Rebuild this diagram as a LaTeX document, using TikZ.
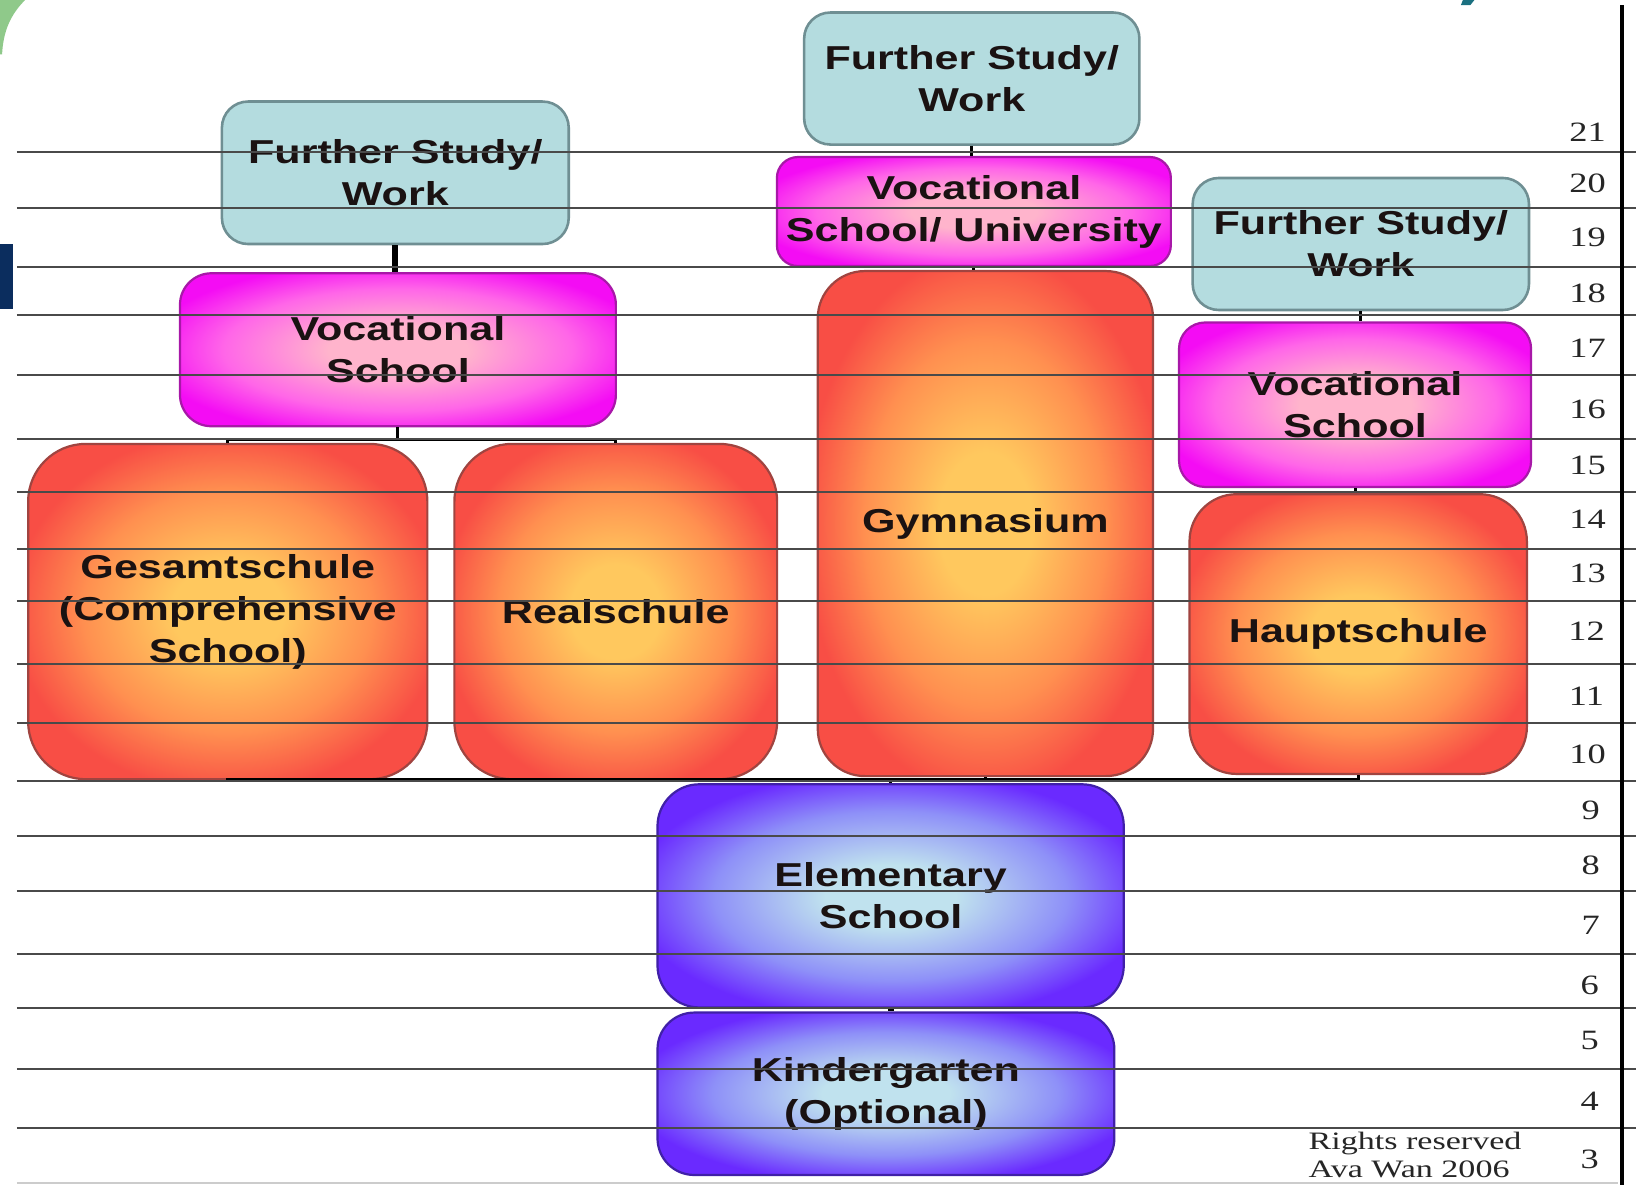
\documentclass[tikz,border=0pt]{standalone}
\usepackage{fontspec}
\setmainfont{Liberation Sans}
\newfontfamily\lblfont[FakeStretch=1.3]{Liberation Sans Bold}
\newfontfamily\numfont[FakeStretch=1.3]{Liberation Serif}
\newfontfamily\rightsfont[FakeStretch=1.36]{Liberation Serif}

\definecolor{orC}{HTML}{FFC85E}
\definecolor{orM}{HTML}{FF9050}
\definecolor{orE}{HTML}{F84E45}
\definecolor{orB}{HTML}{A04440}
\definecolor{mgC}{HTML}{FFB4CC}
\definecolor{mgM}{HTML}{FF66E8}
\definecolor{mgE}{HTML}{F40CF4}
\definecolor{mgB}{HTML}{A818A8}
\definecolor{blC}{HTML}{C0E2EE}
\definecolor{blM}{HTML}{8E90F8}
\definecolor{blE}{HTML}{6A2AFF}
\definecolor{blB}{HTML}{4020A8}
\definecolor{fsF}{HTML}{B4DCDF}
\definecolor{fsB}{HTML}{6F8F93}
\definecolor{txt}{HTML}{1A1212}
\definecolor{gridc}{HTML}{4A4A4A}
\definecolor{leafgreen}{HTML}{8FC98A}
\definecolor{navybar}{HTML}{0B2D5E}
\definecolor{tealmark}{HTML}{1B7080}

\pgfdeclareradialshading{orglow}{\pgfpointorigin}{color(0bp)=(orC); color(7bp)=(orC); color(18bp)=(orM); color(27bp)=(orE); color(50bp)=(orE)}
\pgfdeclareradialshading{mgglow}{\pgfpointorigin}{color(0bp)=(mgC); color(8bp)=(mgC); color(20bp)=(mgM); color(29bp)=(mgE); color(50bp)=(mgE)}
\pgfdeclareradialshading{blglow}{\pgfpointorigin}{color(0bp)=(blC); color(7bp)=(blC); color(19bp)=(blM); color(28bp)=(blE); color(50bp)=(blE)}

\tikzset{
  lbl/.style={font=\lblfont\fontsize{9}{11.4}\selectfont, text=txt, align=center, inner sep=0pt},
  fsbox/.style={lbl, draw=fsB, fill=fsF, line width=0.7pt, rounded corners=0.25cm},
  vcbox/.style={lbl, draw=mgB, shade, shading=mgglow, line width=0.6pt},
  orbox/.style={lbl, draw=orB, shade, shading=orglow, line width=0.6pt},
  blbox/.style={lbl, draw=blB, shade, shading=blglow, line width=0.6pt},
  conn/.style={draw=black, line width=0.85pt},
  thickconn/.style={draw=black, line width=1.7pt},
  yrline/.style={draw=gridc, line width=0.55pt},
  yearnum/.style={font=\numfont\fontsize{7.6}{9}\selectfont, inner sep=0pt, text=black!85},
  rights/.style={font=\rightsfont\fontsize{6.8}{7.8}\selectfont, inner sep=0pt, align=left, text=black!85},
}

\begin{document}
\begin{tikzpicture}[x=0.01cm,y=-0.01cm]
\useasboundingbox[fill=white] (0,0) rectangle (1568,1131.6);

% slide decorations at the edges
\fill[leafgreen] (0,0) -- (24,0) .. controls (10,14) and (3,30) .. (2,52) -- (0,52) -- cycle;
\fill[navybar] (0,233) rectangle (12.5,295);
\fill[tealmark] (1397,0) -- (1408,0) -- (1404,5) -- (1395,5) -- cycle;

% boxes
\node[fsbox, minimum width=3.31cm, minimum height=1.36cm] (fsl) at (377.5,165) {Further Study/\\Work};
\node[vcbox, rounded corners=0.3cm, minimum width=4.16cm, minimum height=1.46cm] (vsl) at (380,334) {Vocational\\School};
\node[orbox, rounded corners=0.55cm, minimum width=3.81cm, minimum height=3.2cm] (gs) at (217.5,584) {Gesamtschule\\(Comprehensive\\School)};
\node[orbox, rounded corners=0.55cm, minimum width=3.08cm, minimum height=3.2cm] (rs) at (588,584) {Realschule};

\node[fsbox, minimum width=3.2cm, minimum height=1.26cm] (fsm) at (928,75) {Further Study/\\Work};
\node[vcbox, rounded corners=0.2cm, minimum width=3.76cm, minimum height=1.04cm] (vsu) at (930,202) {Vocational\\School/ University};
\node[orbox, rounded corners=0.45cm, minimum width=3.2cm, minimum height=4.82cm] (gy) at (941,500) {Gymnasium};

\node[fsbox, minimum width=3.21cm, minimum height=1.26cm] (fsr) at (1299.5,233) {Further Study/\\Work};
\node[vcbox, rounded corners=0.25cm, minimum width=3.36cm, minimum height=1.57cm] (vsr) at (1294,386.5) {Vocational\\School};
\node[orbox, rounded corners=0.45cm, minimum width=3.22cm, minimum height=2.67cm] (hs) at (1297,605.5) {Hauptschule};

\node[blbox, rounded corners=0.4cm, minimum width=4.45cm, minimum height=2.13cm] (es) at (850.5,855.5) {Elementary\\School};
\node[blbox, rounded corners=0.35cm, minimum width=4.36cm, minimum height=1.55cm] (kg) at (846,1044.5) {Kindergarten\\(Optional)};

% connectors
\draw[thickconn] (vsl.north -| fsl.south) -- (fsl.south);
\path (vsl.south) ++(0,12) coordinate (busl);
\draw[conn] (vsl.south) -- (busl);
\draw[conn] (gs.north) |- (busl) -| (rs.north);

\draw[conn] (fsm.south) -- (fsm.south |- vsu.north);
\draw[conn] (vsu.south) -- (vsu.south |- gy.north);
\draw[conn] (fsr.south) -- (fsr.south |- vsr.north);
\draw[conn] (vsr.south) -- (vsr.south |- hs.north);

\path (es.north) ++(0,-3) coordinate (busb);
\draw[conn] (gs.south) |- (busb) -| (hs.south);
\draw[conn] (rs.south) -- (rs.south |- busb);
\draw[conn] (gy.south) -- (gy.south |- busb);
\draw[conn] (busb) -- (es.north);
\draw[thickconn] (es.south) -- (es.south |- kg.north);

% year grid (drawn over the boxes, as in the picture)
\foreach \yy in {145,199,255,301,358,419,470,524,574,634,690,746,798,851,911,963,1021,1077}
  \draw[yrline] (16,\yy) -- (1562,\yy);
\draw[draw=black!20, line width=0.5pt] (16,1130) -- (1545,1130);
\draw[draw=black, line width=0.9pt] (1549,5) -- (1549,1131.6);

% ages
\foreach \n/\xx/\yy in {21/1516/126, 20/1516/175.5, 19/1516/227, 18/1516/280, 17/1516/333, 16/1516/391, 15/1516/444, 14/1516/496, 13/1516/548, 12/1515/603, 11/1515/665, 10/1516/720, 9/1519/774, 8/1519/826, 7/1519/884, 6/1518/941, 5/1518/994, 4/1518/1052, 3/1518/1107}
  \node[yearnum] (age\n) at (\xx,\yy) {\n};

\node[rights, anchor=north west] (credit) at (1249,1080) {Rights reserved\\Ava Wan 2006};
\end{tikzpicture}
\end{document}
